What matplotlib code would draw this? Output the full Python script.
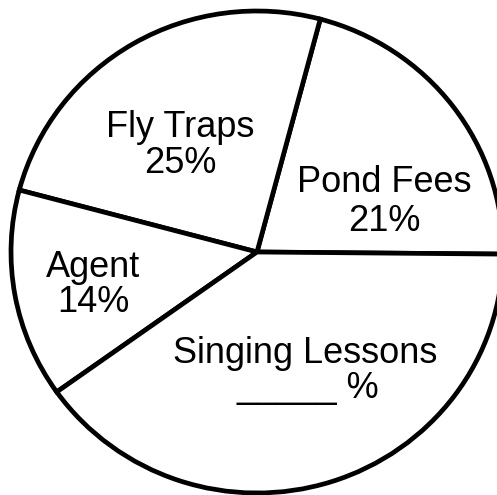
import matplotlib
matplotlib.use("Agg")
import matplotlib.pyplot as plt

categories = ["Pond Fees", "Fly Traps", "Agent", "Singing Lessons"]
values = [21, 25, 14, 40]
value_labels = ["21%", "25%", "14%", "_____ %"]

W, H = 497, 495
CX, CY, RX, RY = 257, 252, 246, 241


def P(x, y):
    return ((x - CX) / RX, (CY - y) / RY)


fig = plt.figure(figsize=(W / 100, H / 100), dpi=100)
ax = fig.add_axes([0, 0, 1, 1])
ax.pie(values, startangle=-0.5, counterclock=True, colors=["white"] * 4,
       wedgeprops=dict(edgecolor="black", linewidth=3.4, joinstyle="miter"))
ax.set_aspect("auto")
ax.set_xlim(-CX / RX, (W - CX) / RX)
ax.set_ylim(-(H - CY) / RY, CY / RY)
ax.axis("off")

font = dict(family=["Liberation Sans", "DejaVu Sans"], fontsize=26, color="black")

# label positions (pixel centers / baselines)
pos = {
    "Pond Fees": (384, 192, 231),
    "Fly Traps": (180, 137, 173),
    "Agent": (93, 277, 312),
    "Singing Lessons": (305, 363, 398),
}
for name, vl in zip(categories, value_labels):
    x, b1, b2 = pos[name]
    ax.text(*P(x, b1), name, ha="center", va="baseline", **font)
    if name == "Singing Lessons":
        ax.text(*P(237, b2), vl, ha="left", va="baseline", **font)
    else:
        ax.text(*P(x, b2), vl, ha="center", va="baseline", **font)

fig.savefig("out.png", dpi=100, facecolor="white")
